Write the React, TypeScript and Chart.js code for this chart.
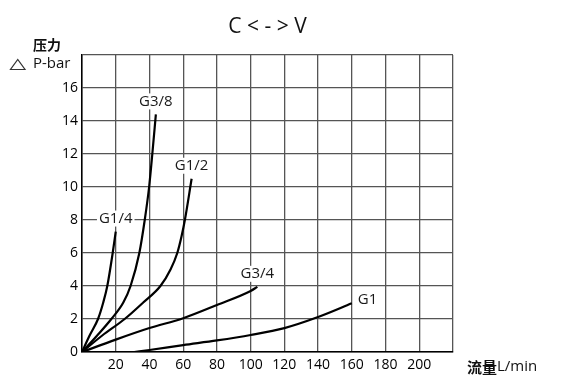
import React, { useEffect, useRef } from "react";
import { Chart, registerables } from "chart.js";

Chart.register(...registerables);

// ---- data ----
const TITLE = "C < - > V";
const Y_LABEL_TOP = "压力";
const Y_LABEL_BOTTOM = "P-bar";
const X_LABEL_CJK = "流量";
const X_LABEL_UNIT = "L/min";

const X_TICKS = [20, 40, 60, 80, 100, 120, 140, 160, 180, 200];
const Y_TICKS = [0, 2, 4, 6, 8, 10, 12, 14, 16];

const SERIES_NAMES = ["G1/4", "G3/8", "G1/2", "G3/4", "G1"];

const G1_4: [number, number][] = [
  [0, 0], [4.5, 1], [9.5, 2], [12.6, 3], [15, 4], [18.2, 6], [20, 7.3],
];
const G3_8: [number, number][] = [
  [0, 0], [9, 1], [17.4, 2], [24.5, 3], [28.8, 4], [34, 6], [37.2, 8], [39.8, 10], [41.7, 12], [43.8, 14.4],
];
const G1_2: [number, number][] = [
  [0, 0], [12, 1], [25.3, 2], [36.3, 3], [46.5, 4], [52.5, 5], [56.5, 6], [59, 7], [61, 8], [65, 10.5],
];
const G3_4: [number, number][] = [
  [0, 0], [20, 0.75], [40, 1.45], [60, 2.05], [80, 2.85], [100, 3.7], [104, 3.95],
];
const G1: [number, number][] = [
  [31, 0], [40, 0.12], [60, 0.42], [80, 0.7], [100, 1.03], [120, 1.45], [140, 2.12], [160, 2.95],
];

const SERIES = [G1_4, G3_8, G1_2, G3_4, G1];
const LABEL_SIDE = ["top", "top", "top", "top", "right"];

const FONT = '"Open Sans", "DejaVu Sans", sans-serif';
const CJK = '"Noto Sans CJK SC", "Open Sans", sans-serif';

const decorPlugin = {
  id: "decor",
  afterDatasetsDraw(chart: any) {
    const ctx = chart.ctx;
    ctx.save();
    chart.data.datasets.forEach((ds: any, i: number) => {
      const meta = chart.getDatasetMeta(i);
      const last = meta.data[meta.data.length - 1];
      const name = SERIES_NAMES[i];
      ctx.font = `15px ${FONT}`;
      const w = ctx.measureText(name).width;
      let cx = last.x;
      let cy = last.y - 13;
      if (LABEL_SIDE[i] === "right") {
        cx = last.x + 6 + w / 2;
        cy = last.y - 4;
      }
      ctx.fillStyle = "#fff";
      ctx.fillRect(cx - w / 2 - 2, cy - 8, w + 4, 16);
      ctx.fillStyle = "#1a1a1a";
      ctx.textAlign = "center";
      ctx.textBaseline = "middle";
      ctx.fillText(name, cx, cy);
    });
    ctx.restore();
  },
  afterDraw(chart: any) {
    const ctx = chart.ctx;
    const area = chart.chartArea;
    ctx.save();
    ctx.fillStyle = "#111";
    ctx.font = `21px ${FONT}`;
    ctx.textAlign = "center";
    ctx.textBaseline = "middle";
    ctx.fillText(TITLE, (area.left + area.right) / 2, 27);
    ctx.textAlign = "left";
    ctx.font = `bold 14px ${CJK}`;
    ctx.fillText(Y_LABEL_TOP, 33, 45);
    ctx.font = `15px ${FONT}`;
    ctx.fillText(Y_LABEL_BOTTOM, 33, 64);
    ctx.strokeStyle = "#333";
    ctx.lineWidth = 1.2;
    ctx.beginPath();
    ctx.moveTo(10.5, 69.5);
    ctx.lineTo(25, 69.5);
    ctx.lineTo(17.75, 59.5);
    ctx.closePath();
    ctx.stroke();
    ctx.font = `bold 15px ${CJK}`;
    ctx.fillText(X_LABEL_CJK, 467, 367);
    const w = ctx.measureText(X_LABEL_CJK).width;
    ctx.font = `15px ${FONT}`;
    ctx.fillText(X_LABEL_UNIT, 467 + w, 367);
    ctx.restore();
  },
};

export default function App() {
  const ref = useRef<HTMLCanvasElement | null>(null);
  useEffect(() => {
    if (!ref.current) return;
    const chart = new Chart(ref.current, {
      type: "line",
      data: {
        datasets: SERIES.map((s, i) => ({
          label: SERIES_NAMES[i],
          data: s.map(([x, y]) => ({ x, y })),
          borderColor: "#000",
          borderWidth: 2.2,
          pointRadius: 0,
          fill: false,
          cubicInterpolationMode: "monotone" as const,
        })),
      },
      options: {
        animation: false,
        responsive: false,
        layout: { padding: { top: 55, right: 111, left: 0, bottom: 0 } },
        plugins: { legend: { display: false }, title: { display: false }, tooltip: { enabled: false } },
        scales: {
          x: {
            type: "linear",
            min: 0,
            max: 220,
            afterFit: (s: any) => { s.height = 32; },
            ticks: {
              stepSize: 20,
              autoSkip: false,
              maxRotation: 0,
              padding: 5,
              color: "#000",
              font: { family: FONT, size: 14 },
              callback: (v: any) => (X_TICKS.includes(Number(v)) ? String(v) : ""),
            },
            grid: { color: "#555", lineWidth: 1.3, drawTicks: false },
            border: { color: "#000", width: 1.5 },
          },
          y: {
            type: "linear",
            min: 0,
            max: 18,
            afterFit: (s: any) => { s.width = 82; },
            ticks: {
              stepSize: 2,
              padding: 4,
              color: "#000",
              font: { family: FONT, size: 14 },
              callback: (v: any) => (Y_TICKS.includes(Number(v)) ? String(v) : ""),
            },
            grid: { color: "#555", lineWidth: 1.3, drawTicks: false },
            border: { color: "#000", width: 1.5 },
          },
        },
      },
      plugins: [decorPlugin],
    });
    return () => chart.destroy();
  }, []);
  return (
    <div style={{ position: "absolute", left: 0, top: 0, width: 564, height: 384, background: "#fff" }}>
      <canvas ref={ref} width={564} height={384} style={{ display: "block" }} />
    </div>
  );
}
